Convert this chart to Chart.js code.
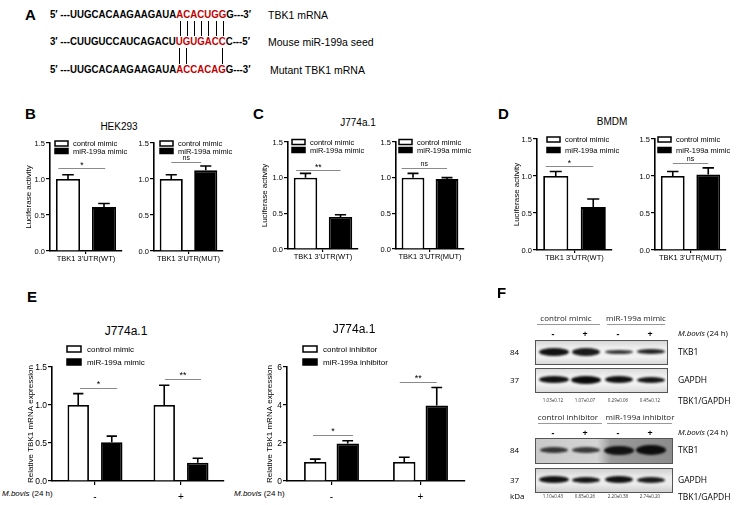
<!DOCTYPE html>
<html>
<head>
<meta charset="utf-8">
<script src="https://cdn.jsdelivr.net/npm/chart.js@4.4.1/dist/chart.umd.min.js"></script>
<style>
  html, body { margin: 0; padding: 0; background: #fff; }
  body { width: 737px; height: 505px; position: relative; overflow: hidden;
         font-family: 'Liberation Sans', Arial, sans-serif; color: #000; }
  .t { position: absolute; white-space: nowrap; line-height: 1; }
  canvas { position: absolute; }
  .red { color: #c00000; }
  .band { position: absolute; border-radius: 50%; filter: blur(1.2px); }
</style>
</head>
<body>
<script>
// ---------- data ----------
const seqRows = [
  ["5′ ---UUGCACAAGAAGAUA", "ACACUGG", "G---3′", "TBK1 mRNA"],
  ["3′ ---CUUGUCCAUCAGACU", "UGUGACC", "C---5′", "Mouse miR-199a seed"],
  ["5′ ---UUGCACAAGAAGAUA", "ACCACAG", "G---3′", "Mutant TBK1 mRNA"]
];
// base-pair links: [upper row, lower row, red-letter indexes]
const pairLinks = [[0, 1, [0, 1, 2, 3, 4, 5, 6]], [1, 2, [0, 1, 6]]];

const mimicSeries = ["control mimic", "miR-199a mimic"];
const inhibitorSeries = ["control inhibitor", "miR-199a inhibitor"];
const wtLabel = ["TBK1 3'UTR(WT)"];
const mutLabel = ["TBK1 3'UTR(MUT)"];
const lucTicks = ["0.0", "0.5", "1.0", "1.5"];

// luciferase activity, [control, miR-199a]
const hekWT = [1.00, 0.61], hekWTErr = [0.06, 0.05];
const hekMUT = [1.00, 1.12], hekMUTErr = [0.06, 0.06];
const j774WT = [1.00, 0.45], j774WTErr = [0.06, 0.03];
const j774MUT = [1.00, 0.98], j774MUTErr = [0.06, 0.02];
const bmdmWT = [1.00, 0.58], bmdmWTErr = [0.06, 0.11];
const bmdmMUT = [1.00, 1.02], bmdmMUTErr = [0.06, 0.09];

// qPCR, categories are M.bovis (24 h) - / +
const bovisCats = ["-", "+"];
const mimicCtrl = [1.00, 1.00], mimicCtrlErr = [0.15, 0.26];
const mimicMir = [0.51, 0.24], mimicMirErr = [0.08, 0.06];
const inhCtrl = [1.00, 1.00], inhCtrlErr = [0.15, 0.25];
const inhMir = [1.97, 3.97], inhMirErr = [0.15, 0.95];
const qpcrTicksA = ["0.0", "0.5", "1.0", "1.5"];
const qpcrTicksB = ["0", "2", "4", "6"];

// significance marks: [text, height in data units]
const hekWTSig = ["*", 1.15], hekMUTSig = ["ns", 1.24];
const j774WTSig = ["**", 1.11], j774MUTSig = ["ns", 1.14];
const bmdmWTSig = ["*", 1.14], bmdmMUTSig = ["ns", 1.18];
const mimicSig = [["*", 1.22], ["**", 1.34]];
const inhSig = [["*", 2.4], ["**", 5.2]];

// western blot
const blotLanes = ["-", "+", "-", "+"];
const mimicRatios = ["1.03±0.12", "1.07±0.07", "0.29±0.06", "0.45±0.12"];
const inhRatios = ["1.10±0.43", "0.85±0.26", "2.20±0.38", "2.74±0.20"];

// ---------- helpers ----------
const FONT = "'Liberation Sans', Arial, sans-serif";
Chart.defaults.font.family = FONT;
Chart.defaults.color = '#000';

function txt(s, x, y, o) {
  o = o || {};
  const d = document.createElement('div');
  d.className = 't';
  d.innerHTML = s;
  d.style.left = x + 'px';
  d.style.top = y + 'px';
  d.style.fontSize = (o.size || 9) + 'px';
  if (o.bold) d.style.fontWeight = 'bold';
  if (o.family) d.style.fontFamily = o.family;
  if (o.color) d.style.color = o.color;
  const ax = o.align === 'center' ? '-50%' : (o.align === 'right' ? '-100%' : '0');
  d.style.transformOrigin = '0 50%';
  d.style.transform = 'translate(' + ax + ',-50%)' + (o.sx ? ' scaleX(' + o.sx + ')' : '');
  document.body.appendChild(d);
  return d;
}

function box(x, y, w, h, css) {
  const d = document.createElement('div');
  d.style.position = 'absolute';
  d.style.left = x + 'px'; d.style.top = y + 'px';
  d.style.width = w + 'px'; d.style.height = h + 'px';
  Object.assign(d.style, css || {});
  document.body.appendChild(d);
  return d;
}

function barPanel(p) {
  const padT = 30, padR = 50;
  const w = p.yW + (p.right - p.axisX) + padR;
  const h = padT + (p.bottom - p.top) + p.xH;
  const c = document.createElement('canvas');
  c.width = w; c.height = h;
  c.style.left = (p.axisX - p.yW) + 'px';
  c.style.top = (p.top - padT) + 'px';
  c.style.width = w + 'px'; c.style.height = h + 'px';
  document.body.appendChild(c);

  const fills = ['#fff', '#000'];
  const step = p.yMax / 3;
  const datasets = p.series.map((s, i) => ({
    label: s,
    data: p.values[i],
    errors: p.errors[i],
    backgroundColor: fills[i],
    borderColor: '#000',
    borderWidth: 1.8,
    categoryPercentage: p.cat,
    barPercentage: p.bar
  }));

  const errorBars = {
    id: 'errorBars',
    afterDatasetsDraw(chart) {
      const ctx = chart.ctx, ys = chart.scales.y;
      chart.data.datasets.forEach((ds, i) => {
        chart.getDatasetMeta(i).data.forEach((el, j) => {
          const top = ys.getPixelForValue(ds.data[j] + ds.errors[j]);
          const half = el.width * 0.24;
          ctx.save();
          ctx.strokeStyle = '#000';
          ctx.lineWidth = 1.6;
          ctx.beginPath();
          ctx.moveTo(el.x, el.y); ctx.lineTo(el.x, top);
          ctx.moveTo(el.x - half, top); ctx.lineTo(el.x + half, top);
          ctx.stroke();
          ctx.restore();
        });
      });
    }
  };

  const sigMarks = {
    id: 'sigMarks',
    afterDatasetsDraw(chart) {
      const ctx = chart.ctx, ys = chart.scales.y;
      p.sig.forEach(s => {
        const a = chart.getDatasetMeta(0).data[s.cat];
        const b = chart.getDatasetMeta(1).data[s.cat];
        const y = Math.round(ys.getPixelForValue(s.v)) + 0.5;
        const x1 = a.x + s.l * a.width, x2 = b.x + s.r * b.width;
        ctx.save();
        ctx.strokeStyle = '#8a8a8a';
        ctx.lineWidth = 1;
        ctx.beginPath(); ctx.moveTo(x1, y); ctx.lineTo(x2, y); ctx.stroke();
        ctx.fillStyle = '#000';
        ctx.textAlign = 'center';
        ctx.textBaseline = 'bottom';
        ctx.font = (s.text === 'ns' ? p.sigFont - 1.5 : p.sigFont) + 'px ' + FONT;
        ctx.fillText(s.text, (x1 + x2) / 2, y - (s.text === 'ns' ? 1 : -1));
        ctx.restore();
      });
    }
  };

  // y tick labels
  const yLabels = {
    id: 'yLabels',
    afterDraw(chart) {
      const ctx = chart.ctx, ys = chart.scales.y;
      ctx.save();
      ctx.font = p.tickFont + 'px ' + FONT;
      ctx.fillStyle = '#000';
      ctx.textAlign = 'right';
      ctx.textBaseline = 'middle';
      ys.ticks.forEach(t => {
        ctx.fillText(p.ticks[Math.round(t.value / step)], chart.chartArea.left - 5, ys.getPixelForValue(t.value) + 0.5);
      });
      ctx.restore();
    }
  };

  const miniLegend = {
    id: 'miniLegend',
    afterDraw(chart) {
      const L = p.legend, ctx = chart.ctx, ca = chart.chartArea;
      ctx.save();
      ctx.font = L.font + 'px ' + FONT;
      ctx.textBaseline = 'middle';
      chart.data.datasets.forEach((ds, i) => {
        const cy = ca.top + L.rows[i];
        const bx = ca.left + L.x;
        ctx.fillStyle = ds.backgroundColor;
        ctx.fillRect(bx, cy - L.bh / 2, L.bw, L.bh);
        ctx.strokeStyle = '#000';
        ctx.lineWidth = 1.5;
        ctx.strokeRect(bx, cy - L.bh / 2, L.bw, L.bh);
        ctx.fillStyle = '#000';
        ctx.fillText(ds.label, bx + L.bw + L.gap, cy + 0.5);
      });
      ctx.restore();
    }
  };

  const titleLH = p.yFont * 1.2;
  new Chart(c, {
    type: 'bar',
    data: { labels: p.labels, datasets: datasets },
    options: {
      responsive: false,
      animation: false,
      devicePixelRatio: 1,
      layout: { padding: { top: padT, right: padR, left: 0, bottom: 0 } },
      plugins: { legend: { display: false }, tooltip: { enabled: false } },
      scales: {
        x: {
          offset: true,
          grid: { drawOnChartArea: false, offset: false, tickLength: p.xTick, color: '#000', lineWidth: 1.2 },
          border: { color: '#000', width: 1.6 },
          ticks: { font: { size: p.xFont }, padding: p.xPad, maxRotation: 0, autoSkip: false },
          afterFit(s) { s.height = p.xH; }
        },
        y: {
          min: 0, max: p.yMax,
          grid: { drawOnChartArea: false, tickLength: 4, color: '#000', lineWidth: 1.2 },
          border: { color: '#000', width: 1.6 },
          ticks: { stepSize: step, autoSkip: false, display: false },
          title: p.yTitle ? {
            display: true, text: p.yTitle, font: { size: p.yFont },
            padding: { top: p.titleX - (p.axisX - p.yW) - titleLH / 2, bottom: 0 }
          } : { display: false },
          afterFit(s) { s.width = p.yW; }
        }
      }
    },
    plugins: [errorBars, sigMarks, yLabels, miniLegend]
  });
}

function lucPanel(axisX, right, top, bottom, labels, vals, errs, sig, legendX, titleX, rows) {
  barPanel({
    axisX: axisX, right: right, top: top, bottom: bottom,
    yW: titleX ? 28 : 20, titleX: titleX, yTitle: titleX ? 'Luciferase activity' : null,
    yFont: 8, tickFont: 7.5, yMax: 1.5, ticks: lucTicks,
    labels: labels, series: mimicSeries,
    values: [[vals[0]], [vals[1]]], errors: [[errs[0]], [errs[1]]],
    cat: 1.0, bar: 0.67,
    xH: 16, xTick: 3, xPad: 0, xFont: 7.5,
    sig: [{ cat: 0, text: sig[0], v: sig[1], l: sig[2], r: sig[3] }], sigFont: 8.5,
    legend: { x: legendX, rows: rows, bw: 13, bh: 5, gap: 5, font: 7.5 }
  });
}

// ---------- panel A ----------
txt('A', 25, 14, { size: 15, bold: true });
const seqY = [15, 42, 70];
const redSpans = [];
seqRows.forEach((r, i) => {
  const d = txt(r[0] + '<span class="red">' + r[1] + '</span>' + r[2], 50, seqY[i],
                { size: 11.5, bold: true, sx: 0.84 });
  redSpans.push(d.querySelector('.red'));
  txt(r[3], i === 2 ? 270 : 268, seqY[i], { size: 10.5 });
});
pairLinks.forEach(([a, b, idx]) => {
  const rc = redSpans[a].getBoundingClientRect();
  const n = seqRows[a][1].length;
  idx.forEach(j => {
    const x = rc.left + (j + 0.5) * rc.width / n;
    box(Math.round(x), seqY[a] + 6, 1, seqY[b] - seqY[a] - 12, { background: '#000' });
  });
});

// ---------- panels B, C, D ----------
txt('B', 25, 113, { size: 15, bold: true });
txt('C', 253, 113, { size: 15, bold: true });
txt('D', 498, 113, { size: 15, bold: true });
txt('HEK293', 119, 127, { size: 10, align: 'center' });
txt('J774a.1', 358, 123, { size: 10, align: 'center' });
txt('BMDM', 612, 122, { size: 10, align: 'center' });

lucPanel(50, 122, 143, 251, wtLabel, hekWT, hekWTErr, hekWTSig.concat([-0.4, 0.05]), 5, 29, [0.5, 8]);
lucPanel(154, 223, 143, 251, mutLabel, hekMUT, hekMUTErr, hekMUTSig.concat([0, -0.2]), 6, null, [0.5, 8]);
lucPanel(288, 358, 142, 249, wtLabel, j774WT, j774WTErr, j774WTSig.concat([-0.4, 0]), 4, 265, [0, 8]);
lucPanel(396, 464, 142, 249, mutLabel, j774MUT, j774MUTErr, j774MUTSig.concat([-0.5, 0]), 3, null, [0, 8]);
lucPanel(537, 612, 139, 250, wtLabel, bmdmWT, bmdmWTErr, bmdmWTSig.concat([-0.4, 0]), 10, 517, [0.5, 11]);
lucPanel(655, 726, 139, 250, mutLabel, bmdmMUT, bmdmMUTErr, bmdmMUTSig.concat([0, 0]), 3, null, [0.5, 11]);

// ---------- panel E ----------
txt('E', 27, 296, { size: 15, bold: true });
txt('J774a.1', 126, 331, { size: 12, align: 'center' });
txt('J774a.1', 354, 329, { size: 12, align: 'center' });
txt('<i>M.bovis</i> (24 h)', 2, 494, { size: 8 });
txt('<i>M.bovis</i> (24 h)', 234, 494, { size: 8 });

barPanel({
  axisX: 52, right: 224, top: 367, bottom: 481,
  yW: 28, titleX: 31, yTitle: 'Relative TBK1 mRNA expression', yFont: 8, tickFont: 8.5,
  yMax: 1.5, ticks: qpcrTicksA,
  labels: bovisCats, series: mimicSeries,
  values: [mimicCtrl, mimicMir], errors: [mimicCtrlErr, mimicMirErr],
  cat: 0.78, bar: 0.64,
  xH: 24, xTick: 4, xPad: 6, xFont: 10,
  sig: [{ cat: 0, text: mimicSig[0][0], v: mimicSig[0][1], l: 0.08, r: 0.25 },
        { cat: 1, text: mimicSig[1][0], v: mimicSig[1][1], l: 0.03, r: 0.15 }], sigFont: 9,
  legend: { x: 15, rows: [-18, -5], bw: 14, bh: 6, gap: 6, font: 8 }
});

barPanel({
  axisX: 287, right: 465, top: 367, bottom: 481,
  yW: 28, titleX: 270, yTitle: 'Relative TBK1 mRNA expression', yFont: 8, tickFont: 8.5,
  yMax: 6, ticks: qpcrTicksB,
  labels: bovisCats, series: inhibitorSeries,
  values: [inhCtrl, inhMir], errors: [inhCtrlErr, inhMirErr],
  cat: 0.73, bar: 0.69,
  xH: 24, xTick: 4, xPad: 6, xFont: 10,
  sig: [{ cat: 0, text: inhSig[0][0], v: inhSig[0][1], l: -0.1, r: 0.23 },
        { cat: 1, text: inhSig[1][0], v: inhSig[1][1], l: -0.2, r: 0 }], sigFont: 9,
  legend: { x: 16, rows: [-18, -5], bw: 14, bh: 6, gap: 6, font: 8 }
});

// ---------- panel F (western blot) ----------
const cal = "'Open Sans', sans-serif";
txt('F', 497, 292, { size: 15, bold: true });
const laneX = [553, 585, 618, 650];

function blotBlock(y0, groups, ratios, strips, kdaRow) {
  groups.forEach(g => {
    txt(g.text, g.cx, y0, { size: 8, family: cal, align: 'center', color: '#222' });
    box(g.x1, y0 + 6, g.x2 - g.x1, 1, { background: '#999' });
  });
  blotLanes.forEach((s, i) => txt(s, laneX[i], y0 + 15, { size: 9, bold: true, family: cal, align: 'center' }));
  txt('<i>M.bovis</i> (24 h)', 678, y0 + 15, { size: 8, family: cal });
  strips.forEach(s => {
    const b = box(s.x, s.y, s.w, s.h, { border: '1px solid #555', background: s.bg, overflow: 'hidden' });
    s.bands.forEach((bd, i) => {
      const e = document.createElement('div');
      e.className = 'band';
      Object.assign(e.style, {
        left: (laneX[i] - s.x - bd[0] / 2) + 'px', top: (s.h / 2 - bd[1] / 2 - 1) + 'px',
        width: bd[0] + 'px', height: bd[1] + 'px', background: bd[2]
      });
      b.appendChild(e);
    });
    txt(s.kda, 510, s.y + s.h / 2, { size: 8, family: cal });
    txt(s.name, 678, s.y + s.h / 2, { size: 8.5, family: cal });
  });
  ratios.forEach((r, i) => txt(r, laneX[i], kdaRow, { size: 4.5, family: cal, align: 'center', color: '#333' }));
  txt('TBK1/GAPDH', 678, kdaRow + 1, { size: 8.5, family: cal });
}

blotBlock(318,
  [{ text: 'control mimic', cx: 566, x1: 537, x2: 600 },
   { text: 'miR-199a mimic', cx: 636, x1: 607, x2: 665 }],
  mimicRatios,
  [{ x: 535, y: 340, w: 131, h: 23, kda: '84', name: 'TKB1',
     bg: 'linear-gradient(#d6d6d6, #efefef 30%, #f2f2f2 70%, #d8d8d8)',
     bands: [[30, 8, '#111'], [28, 8, '#1a1a1a'], [28, 4, '#333'], [28, 5, '#222']] },
   { x: 535, y: 368, w: 131, h: 23, kda: '37', name: 'GAPDH',
     bg: 'linear-gradient(#dcdcdc, #f2f2f2 35%, #f2f2f2 65%, #dadada)',
     bands: [[30, 7, '#111'], [30, 8, '#0a0a0a'], [28, 7, '#111'], [28, 6, '#151515']] }],
  400);

blotBlock(417,
  [{ text: 'control inhibitor', cx: 568, x1: 538, x2: 602 },
   { text: 'miR-199a inhibitor', cx: 640, x1: 607, x2: 672 }],
  inhRatios,
  [{ x: 535, y: 438, w: 136, h: 24, kda: '84', name: 'TKB1',
     bg: 'linear-gradient(90deg, #c9c9c9, #d4d4d4 45%, #9a9a9a 55%, #8c8c8c)',
     bands: [[28, 6, '#333'], [28, 6, '#3a3a3a'], [30, 9, '#111'], [30, 10, '#0d0d0d']] },
   { x: 535, y: 468, w: 136, h: 23, kda: '37', name: 'GAPDH',
     bg: 'linear-gradient(#d0d0d0, #ececec 35%, #ececec 65%, #d0d0d0)',
     bands: [[30, 7, '#111'], [28, 6, '#161616'], [28, 7, '#111'], [28, 6, '#1a1a1a']] }],
  496);
txt('kDa', 510, 496, { size: 8, family: cal });
</script>
</body>
</html>
